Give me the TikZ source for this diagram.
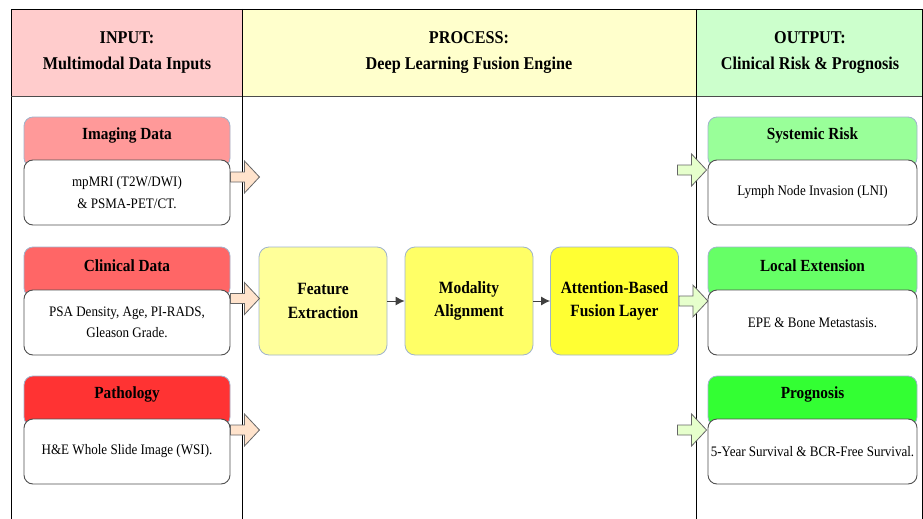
\documentclass[tikz,border=0pt]{standalone}
\usepackage{fontspec}
\setmainfont{Liberation Serif}[FakeStretch=0.9]
\usetikzlibrary{arrows.meta,calc}
\definecolor{hin}{HTML}{FFCCCC}
\definecolor{hpr}{HTML}{FFFFCC}
\definecolor{hout}{HTML}{CCFFCC}
\definecolor{cimg}{HTML}{FF9999}
\definecolor{cclin}{HTML}{FF6666}
\definecolor{cpath}{HTML}{FF3333}
\definecolor{csys}{HTML}{99FF99}
\definecolor{cloc}{HTML}{66FF66}
\definecolor{cprog}{HTML}{33FF33}
\definecolor{cfeat}{HTML}{FFFF99}
\definecolor{cmod}{HTML}{FFFF66}
\definecolor{catt}{HTML}{FFFF33}
\definecolor{lborder}{HTML}{9FB3CC}
\definecolor{dborder}{HTML}{505050}
\definecolor{arin}{HTML}{FFE3CC}
\definecolor{arout}{HTML}{E6FFCC}
\tikzset{
  hbox/.style={draw=lborder, line width=0.8pt, rounded corners=9pt, minimum width=206pt, minimum height=50pt, inner sep=0pt},
  htext/.style={font=\fontsize{17}{20}\selectfont\bfseries, inner sep=0pt},
  bbox/.style={draw=dborder, line width=0.9pt, fill=white, rounded corners=9pt, minimum width=206pt, minimum height=65pt, inner sep=0pt, align=center, font=\fontsize{14.5}{21.5}\selectfont},
  pbox/.style={draw=lborder, line width=0.8pt, rounded corners=10pt, minimum width=128pt, minimum height=108pt, inner sep=0pt, align=center, font=\fontsize{17.2}{23.5}\selectfont\bfseries},
  coltitle/.style={align=center, font=\fontsize{18}{26}\selectfont\bfseries, inner sep=0pt},
  flow/.style={-{Latex[length=9pt,width=9pt]}, line width=1pt, draw=black!75},
  barrow/.pic={\draw[draw=black!60, line width=0.8pt, fill=#1] (0,-5) -- (14,-5) -- (14,-16) -- (29,0) -- (14,16) -- (14,5) -- (0,5) -- cycle;}
}
\begin{document}
\begin{tikzpicture}[x=1pt,y=-1pt]
\useasboundingbox (0,0) rectangle (923,519);
% header fills
\fill[hin] (11,9) rectangle (242,96);
\fill[hpr] (242,9) rectangle (696,96);
\fill[hout] (696,9) rectangle (922,96);
\draw[line width=0.9pt] (11,519) -- (11,9) -- (922,9) -- (922,519);
\draw[line width=1pt, draw=black!70] (11,96) -- (922,96);
\draw[line width=0.9pt] (242,9) -- (242,519);
\draw[line width=0.9pt] (696,9) -- (696,519);
% column titles
\node[coltitle] (tin) at (127,53) {INPUT:\\Multimodal Data Inputs};
\node[coltitle] (tpr) at (469,53) {PROCESS:\\Deep Learning Fusion Engine};
\node[coltitle] (tout) at (810,53) {OUTPUT:\\Clinical Risk \& Prognosis};
% input boxes
\node[hbox, fill=cimg] (imgh) at (127,142) {};
\node[htext] at ([yshift=-19pt]imgh.north) {Imaging Data};
\node[bbox] (imgb) at (127,192.5) {mpMRI (T2W/DWI)\\\& PSMA-PET/CT.};
\node[hbox, fill=cclin] (clinh) at (127,272) {};
\node[htext] at ([yshift=-19pt]clinh.north) {Clinical Data};
\node[bbox] (clinb) at (127,322.5) {PSA Density, Age, PI-RADS,\\Gleason Grade.};
\node[hbox, fill=cpath] (pathh) at (127,401) {};
\node[htext] at ([yshift=-19pt]pathh.north) {Pathology};
\node[bbox] (pathb) at (127,451.5) {H\&E Whole Slide Image (WSI).};
% output boxes
\node[hbox, fill=csys, minimum width=209pt] (sysh) at (812.5,142) {};
\node[htext] at ([yshift=-19pt]sysh.north) {Systemic Risk};
\node[bbox, minimum width=209pt] (sysb) at (812.5,192.5) {Lymph Node Invasion (LNI)};
\node[hbox, fill=cloc, minimum width=209pt] (loch) at (812.5,272) {};
\node[htext] at ([yshift=-19pt]loch.north) {Local Extension};
\node[bbox, minimum width=209pt] (locb) at (812.5,322.5) {EPE \& Bone Metastasis.};
\node[hbox, fill=cprog, minimum width=209pt] (progh) at (812.5,401) {};
\node[htext] at ([yshift=-19pt]progh.north) {Prognosis};
\node[bbox, minimum width=209pt] (progb) at (812.5,451.5) {5-Year Survival \& BCR-Free Survival.};
% process boxes
\node[pbox, fill=cfeat] (feat) at (323,301) {Feature\\Extraction};
\node[pbox, fill=cmod] (mod) at (469,301) {Modality\\Alignment};
\node[pbox, fill=catt] (att) at (614.5,301) {Attention-Based\\Fusion Layer};
\draw[flow] (feat) -- (mod);
\draw[flow] (mod) -- (att);
% block arrows
\pic at ([yshift=15.5pt]imgb.east) {barrow=arin};
\pic at ([yshift=24pt]clinb.east) {barrow=arin};
\pic at ([yshift=21.5pt]pathb.east) {barrow=arin};
\pic at ([xshift=-30pt,yshift=22.5pt]sysb.west) {barrow=arout};
\pic at (att.east) {barrow=arout};
\pic at ([xshift=-30pt,yshift=21.5pt]progb.west) {barrow=arout};
\end{tikzpicture}
\end{document}
